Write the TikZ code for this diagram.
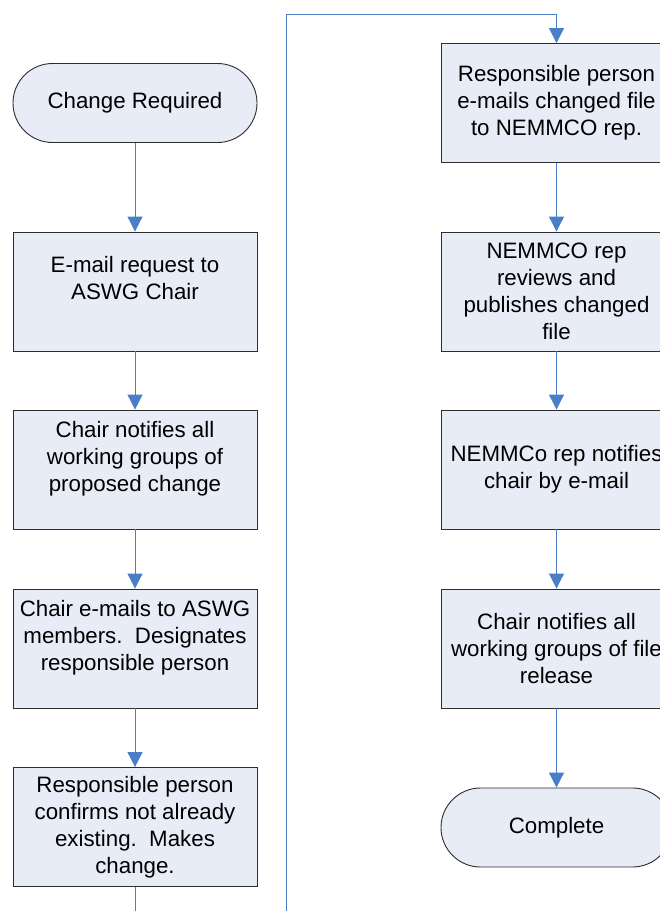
\documentclass[tikz,border=0pt]{standalone}
\usepackage{fontspec}
\setmainfont{Liberation Sans}
\usetikzlibrary{arrows.meta}
\definecolor{boxfill}{RGB}{231,236,247}
\definecolor{linkblue}{RGB}{74,126,199}
\definecolor{boxline}{RGB}{45,45,45}
\begin{document}
\begin{tikzpicture}[x=1pt,y=-1pt,
  proc/.style={draw=boxline, fill=boxfill, line width=0.9pt, minimum width=244pt,
    minimum height=119pt, inner sep=0pt, align=center,
    font=\fontsize{22.3}{27}\selectfont},
  rproc/.style={proc, minimum width=231pt},
  term/.style={proc, rounded corners=39.5pt, minimum height=79pt},
  rterm/.style={term, minimum width=231pt},
  link/.style={draw=linkblue, line width=1pt, -{Triangle[length=15pt,width=15pt]}},
  plain/.style={draw=linkblue, line width=1pt}]
\useasboundingbox (0,0) rectangle (660,911);
\clip (0,0) rectangle (660,911);
% left column
\node[term] (cr) at (135,103) {Change Required};
\node[proc] (b2) at (135,291.5) {E-mail request to\\ASWG Chair\\ \mbox{}};
\node[proc] (b3) at (135,469.5) {Chair notifies all\\working groups of\\proposed change\\ \mbox{}};
\node[proc] (b4) at (135,648.5) {Chair e-mails to ASWG\\members.\ \ Designates\\responsible person\\ \mbox{}};
\node[proc] (b5) at (135,827) {Responsible person\\confirms not already\\existing.\ \ Makes\\change.};
% right column
\node[rproc] (ra) at (556.5,103) {Responsible person\\e-mails changed file\\to NEMMCO rep.};
\node[rproc] (rb) at (556.5,291.5) {NEMMCO rep\\reviews and\\publishes changed\\file};
\node[rproc] (rc) at (556.5,469.5) {NEMMCo rep notifies\\chair by e-mail};
\node[rproc] (rd) at (556.5,648.5) {Chair notifies all\\working groups of file\\release};
\node[rterm] (comp) at (556.5,827.5) {Complete};
% connectors
\draw[link] (cr) -- (b2);
\draw[link] (b2) -- (b3);
\draw[link] (b3) -- (b4);
\draw[link] (b4) -- (b5);
\coordinate (b5end) at (135,915);
\draw[plain] (b5) -- (b5end);
\coordinate (vbot) at (286,915);
\coordinate (vtop) at (286,14);
\draw[link] (vbot) -- (vtop) -| (ra.north);
\draw[link] (ra) -- (rb);
\draw[link] (rb) -- (rc);
\draw[link] (rc) -- (rd);
\draw[link] (rd) -- (comp);
\end{tikzpicture}
\end{document}
